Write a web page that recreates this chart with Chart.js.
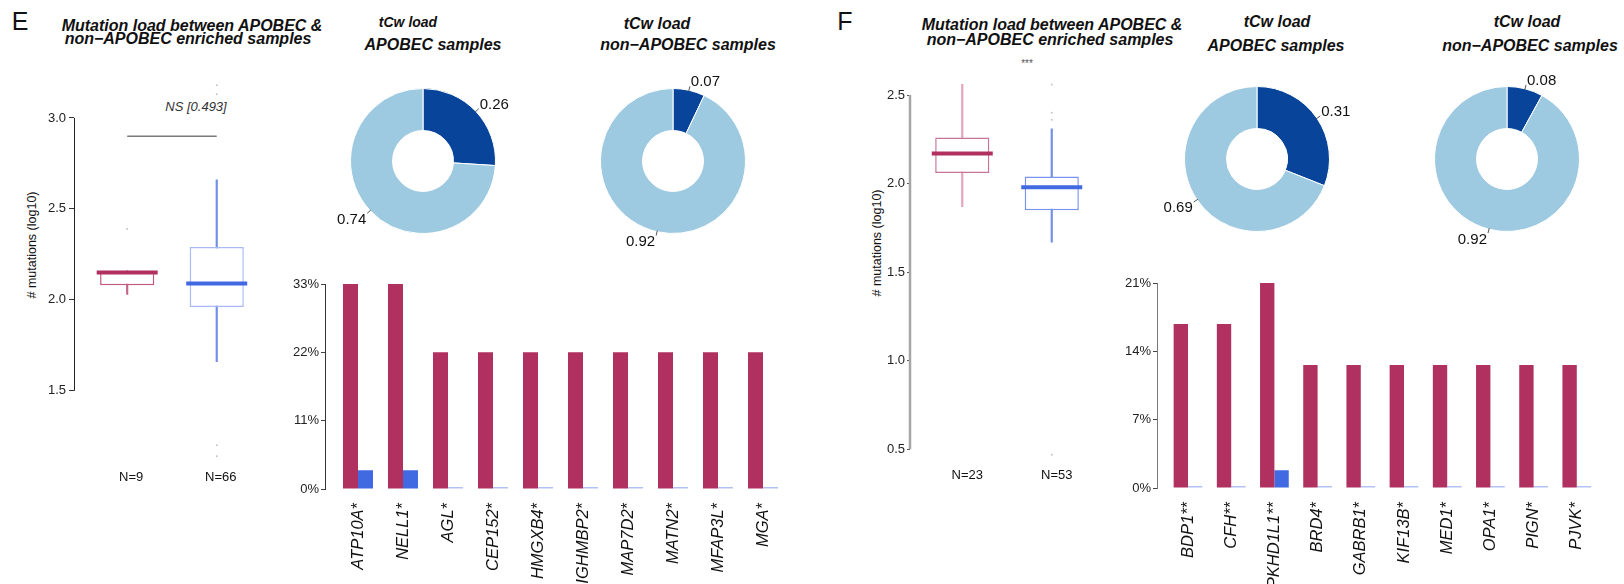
<!DOCTYPE html>
<html><head><meta charset="utf-8">
<script src="https://cdn.jsdelivr.net/npm/chart.js@4.4.1/dist/chart.umd.min.js"></script>
<style>
html,body{margin:0;padding:0;background:#fff;}
#fig{position:relative;width:1624px;height:584px;overflow:hidden;font-family:"Liberation Sans",Arial,Helvetica,sans-serif;color:#111;}
.t{position:absolute;transform:translate(-50%,-50%);white-space:nowrap;line-height:1;}
.bi{font-weight:bold;font-style:italic;font-size:16px;}
.rot{transform:translate(-50%,-50%) rotate(-90deg);font-size:12.5px;}
canvas{position:absolute;}
</style></head><body><div id="fig">
<div class="t" style="left:20px;top:21px;font-size:25px;">E</div>
<div class="t bi" style="left:192px;top:26px;">Mutation load between APOBEC &amp;</div>
<div class="t bi" style="left:188px;top:39px;">non−APOBEC enriched samples</div>
<div class="t rot" style="left:32px;top:245px;"># mutations (log10)</div>
<div class="t" style="left:196px;top:106px;font-size:13px;font-style:italic;color:#333;">NS [0.493]</div>
<div class="t bi" style="left:408px;top:22px;font-size:14px;">tCw load</div>
<div class="t bi" style="left:433px;top:45px;">APOBEC samples</div>
<div class="t bi" style="left:657px;top:24px;">tCw load</div>
<div class="t bi" style="left:688px;top:45px;">non−APOBEC samples</div>

<div class="t" style="left:845px;top:21px;font-size:25px;">F</div>
<div class="t bi" style="left:1052px;top:25px;">Mutation load between APOBEC &amp;</div>
<div class="t bi" style="left:1050px;top:40px;">non−APOBEC enriched samples</div>
<div class="t rot" style="left:877px;top:243px;"># mutations (log10)</div>
<div class="t" style="left:1027px;top:64px;font-size:10px;color:#555;">***</div>
<div class="t bi" style="left:1277px;top:22px;">tCw load</div>
<div class="t bi" style="left:1276px;top:46px;">APOBEC samples</div>
<div class="t bi" style="left:1527px;top:22px;">tCw load</div>
<div class="t bi" style="left:1530px;top:46px;">non−APOBEC samples</div>

<canvas id="boxE" width="262" height="460" style="left:34px;top:38px;"></canvas>
<canvas id="boxF" width="261" height="464" style="left:870px;top:34px;"></canvas>
<canvas id="donE1" width="240" height="200" style="left:303px;top:61px;"></canvas>
<canvas id="donE2" width="240" height="200" style="left:553px;top:61px;"></canvas>
<canvas id="donF1" width="240" height="200" style="left:1137px;top:59px;"></canvas>
<canvas id="donF2" width="240" height="200" style="left:1387px;top:59px;"></canvas>
<canvas id="barE" width="531" height="320" style="left:275px;top:264px;"></canvas>
<canvas id="barF" width="512" height="321" style="left:1107px;top:263px;"></canvas>
</div>
<script>
// ---------- Panel E data ----------
const boxGroupsE = ['N=9', 'N=66'];
const boxLowE  = [2.03, 1.66];
const boxQ1E   = [2.08, 1.96];
const boxMedE  = [2.15, 2.09];
const boxQ3E   = [2.16, 2.29];
const boxHighE = [2.16, 2.66];
const outGroupE = [0, 1, 1, 1, 1];
const outValE   = [2.39, 3.18, 3.13, 1.20, 1.14];
const yTicksE = [1.5, 2.0, 2.5, 3.0];
const yTickLabelsE = ['1.5', '2.0', '2.5', '3.0'];
const bracketE = 2.9;

const donutLabels = ['tCw', 'other'];
const donutE1 = [0.26, 0.74];
const donutE2 = [0.07, 0.92];

const genesE = ['ATP10A*', 'NELL1*', 'AGL*', 'CEP152*', 'HMGXB4*', 'IGHMBP2*', 'MAP7D2*', 'MATN2*', 'MFAP3L*', 'MGA*'];
const apobecE    = [33.33, 33.33, 22.22, 22.22, 22.22, 22.22, 22.22, 22.22, 22.22, 22.22];
const nonApobecE = [3.03, 3.03, 0, 0, 0, 0, 0, 0, 0, 0];
const pctTicksE = [0, 11.11, 22.22, 33.33];
const pctTickLabelsE = ['0%', '11%', '22%', '33%'];

// ---------- Panel F data ----------
const boxGroupsF = ['N=23', 'N=53'];
const boxLowF  = [1.87, 1.67];
const boxQ1F   = [2.06, 1.85];
const boxMedF  = [2.17, 1.98];
const boxQ3F   = [2.26, 2.04];
const boxHighF = [2.56, 2.31];
const outGroupF = [1, 1, 1, 1];
const outValF   = [2.56, 2.40, 2.36, 0.47];
const yTicksF = [0.5, 1.0, 1.5, 2.0, 2.5];
const yTickLabelsF = ['0.5', '1.0', '1.5', '2.0', '2.5'];

const donutF1 = [0.31, 0.69];
const donutF2 = [0.08, 0.92];

const genesF = ['BDP1**', 'CFH**', 'PKHD1L1**', 'BRD4*', 'GABRB1*', 'KIF13B*', 'MED1*', 'OPA1*', 'PIGN*', 'PJVK*'];
const apobecF    = [17.39, 17.39, 21.74, 13.04, 13.04, 13.04, 13.04, 13.04, 13.04, 13.04];
const nonApobecF = [0, 0, 1.89, 0, 0, 0, 0, 0, 0, 0];
const pctTicksF = [0, 7.25, 14.49, 21.74];
const pctTickLabelsF = ['0%', '7%', '14%', '21%'];

// ---------- Chart setup ----------
const FONT = '"Liberation Sans", Arial, Helvetica, sans-serif';
Chart.defaults.font.family = FONT;
Chart.defaults.color = '#111';
Chart.defaults.animation = false;
Chart.defaults.events = [];
Chart.defaults.plugins.legend.display = false;
Chart.defaults.plugins.tooltip.enabled = false;

const rAxis = {
  id: 'rAxis',
  afterDraw(chart, args, o) {
    const s = chart.scales.y, ctx = chart.ctx, t = s.ticks;
    const y1 = s.getPixelForValue(t[0].value), y2 = s.getPixelForValue(t[t.length - 1].value);
    const x = s.right + (o.width % 2 === 1 ? 0.5 : 0);
    ctx.save(); ctx.strokeStyle = o.color; ctx.lineWidth = o.width;
    ctx.beginPath(); ctx.moveTo(x, y1); ctx.lineTo(x, y2); ctx.stroke(); ctx.restore();
  }
};

function makeBox(id, g, lo, q1, med, q3, hi, og, ov, yt, ytl, o) {
  const ds = [
    {type: 'bar', data: g.map((_, i) => ({x: i, y: [lo[i], hi[i]]})), backgroundColor: o.whisker,
     barThickness: 1.5, grouped: false, order: 5},
    {type: 'bar', data: g.map((_, i) => ({x: i, y: [q1[i], q3[i]]})), backgroundColor: '#ffffff',
     borderColor: o.box, borderWidth: 1.5, borderSkipped: false, barPercentage: 0.605, categoryPercentage: 1,
     grouped: false, order: 4},
    {type: 'line', data: g.map((_, i) => ({x: i, y: med[i]})), showLine: false, pointStyle: 'line',
     pointRadius: 30.5, pointBorderWidth: 4, pointBorderColor: o.median, order: 3},
    {type: 'line', data: og.map((gi, k) => ({x: gi, y: ov[k]})), showLine: false, pointStyle: 'circle',
     pointRadius: 1, pointBorderWidth: 0, pointBackgroundColor: '#c4c4c4', order: 2}
  ];
  if (o.bracket !== undefined) {
    ds.push({type: 'line', data: [{x: 0, y: o.bracket}, {x: 1, y: o.bracket}], borderColor: '#7a7a7a',
             borderWidth: 1.5, pointRadius: 0, order: 1});
  }
  new Chart(document.getElementById(id), {
    type: 'bar',
    data: {datasets: ds},
    options: {
      responsive: false,
      layout: {padding: {top: 10, right: 10, left: 0, bottom: 0}},
      scales: {
        x: {type: 'linear', offset: false, min: o.xmin, max: o.xmax,
            afterBuildTicks: s => { s.ticks = g.map((_, i) => ({value: i})); },
            afterFit: s => { s.height = 30; },
            grid: {display: false, drawTicks: false}, border: {display: false},
            ticks: {callback: v => g[v], padding: o.xpad, labelOffset: o.lo, font: {size: 13}, color: '#111',
                    maxRotation: 0, autoSkip: false}},
        y: {min: o.ymin, max: o.ymax,
            afterBuildTicks: s => { s.ticks = yt.map(v => ({value: v})); },
            afterFit: s => { s.width = 40; },
            grid: {drawOnChartArea: false, drawTicks: true, tickLength: o.tl, color: o.tickColor},
            border: {display: false},
            ticks: {callback: (v, i) => ytl[i], padding: o.yp, font: {size: 13}, color: '#222'}}
      },
      plugins: {rAxis: {color: o.axisColor, width: o.axisWidth}}
    },
    plugins: [rAxis]
  });
}

makeBox('boxE', boxGroupsE, boxLowE, boxQ1E, boxMedE, boxQ3E, boxHighE, outGroupE, outValE, yTicksE, yTickLabelsE, {
  whisker: ['#c8648a', '#6f8fe8'], box: ['#c2587f', '#a8b9f3'], median: ['#B03060', '#4169E1'], bracket: bracketE,
  xmin: -0.594, xmax: 1.5, ymin: 1.1, ymax: 3.25, xpad: 6, lo: 4, tl: 5, yp: 3,
  tickColor: '#333', axisColor: '#222', axisWidth: 1
});

makeBox('boxF', boxGroupsF, boxLowF, boxQ1F, boxMedF, boxQ3F, boxHighF, outGroupF, outValF, yTicksF, yTickLabelsF, {
  whisker: ['#e3a3bd', '#6f8fe8'], box: ['#c8739a', '#7994ee'], median: ['#B03060', '#4169E1'],
  xmin: -0.584, xmax: 1.5, ymin: 0.42, ymax: 2.65, xpad: 4, lo: 5, tl: 3, yp: 2,
  tickColor: '#555', axisColor: '#a6a6a6', axisWidth: 2.5
});

const donutLabelPlugin = {
  id: 'donutLbl',
  afterDatasetsDraw(chart) {
    const meta = chart.getDatasetMeta(0), ctx = chart.ctx, vals = chart.data.datasets[0].data;
    ctx.save();
    ctx.font = '15px ' + FONT;
    ctx.fillStyle = '#111'; ctx.strokeStyle = '#555'; ctx.lineWidth = 1;
    meta.data.forEach((arc, i) => {
      const p = arc.getProps(['x', 'y', 'startAngle', 'endAngle', 'outerRadius'], true);
      const a = (p.startAngle + p.endAngle) / 2, c = Math.cos(a), s = Math.sin(a);
      const r0 = p.outerRadius - 1, r1 = p.outerRadius + 4;
      const ex = p.x + c * r1, ey = p.y + s * r1;
      ctx.beginPath(); ctx.moveTo(p.x + c * r0, p.y + s * r0); ctx.lineTo(ex, ey); ctx.stroke();
      ctx.textAlign = c >= 0 ? 'left' : 'right';
      ctx.textBaseline = 'alphabetic';
      const ty = s < 0 ? ey : ey + 10.5;
      ctx.fillText(vals[i].toFixed(2), ex + (c >= 0 ? 1 : -1), ty);
    });
    ctx.restore();
  }
};

function makeDonut(id, vals) {
  new Chart(document.getElementById(id), {
    type: 'doughnut',
    data: {labels: donutLabels, datasets: [{data: vals, backgroundColor: ['#08459a', '#9ecae1'],
           borderColor: '#ffffff', borderWidth: 1}]},
    options: {responsive: false, radius: 72.5, cutout: '42%', layout: {padding: 0}},
    plugins: [donutLabelPlugin]
  });
}
makeDonut('donE1', donutE1);
makeDonut('donE2', donutE2);
makeDonut('donF1', donutF1);
makeDonut('donF2', donutF2);

function makeBars(id, genes, red, blue, yt, ytl, o) {
  new Chart(document.getElementById(id), {
    type: 'bar',
    data: {datasets: [
      {data: genes.map((_, i) => ({x: i, y: red[i]})), backgroundColor: '#B03060',
       categoryPercentage: o.cp, barPercentage: 1},
      {data: genes.map((_, i) => ({x: i, y: blue[i]})),
       backgroundColor: c => (c.raw && c.raw.y > 0) ? '#4169E1' : '#b3c2f3',
       minBarLength: 2, categoryPercentage: o.cp, barPercentage: 1}
    ]},
    options: {
      responsive: false,
      layout: {padding: {top: 20, right: o.pr, left: 0, bottom: 0}},
      scales: {
        x: {type: 'linear', offset: false, min: o.xmin, max: 9.5,
            afterBuildTicks: s => { s.ticks = genes.map((_, i) => ({value: i})); },
            afterFit: s => { s.height = o.xh; },
            grid: {display: false, drawTicks: false}, border: {display: false},
            ticks: {callback: v => genes[v], autoSkip: false, maxRotation: 90, minRotation: 90, padding: 14,
                    font: {size: 16.5, style: 'italic'}, color: '#111'}},
        y: {min: 0, max: yt[yt.length - 1],
            afterBuildTicks: s => { s.ticks = yt.map(v => ({value: v})); },
            afterFit: s => { s.width = 50; },
            grid: {drawOnChartArea: false, drawTicks: true, tickLength: 4, color: '#444'},
            border: {display: true, color: o.axis, width: 1},
            ticks: {callback: (v, i) => ytl[i], padding: 2, font: {size: 13}, color: '#222'}}
      }
    }
  });
}
makeBars('barE', genesE, apobecE, nonApobecE, pctTicksE, pctTickLabelsE, {cp: 0.667, pr: 20.5, xmin: -0.7333, xh: 95, axis: '#333'});
makeBars('barF', genesF, apobecF, nonApobecF, pctTicksF, pctTickLabelsF, {cp: 0.665, pr: 20.6, xmin: -0.7176, xh: 96, axis: '#777'});
</script>
</body></html>
